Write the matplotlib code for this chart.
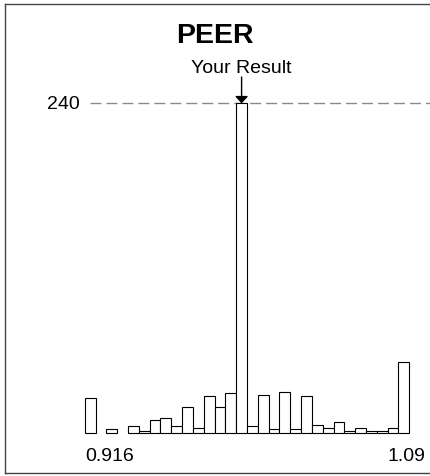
import matplotlib
matplotlib.use("Agg")
import matplotlib.pyplot as plt
import numpy as np

# ---- data ----
counts = [26, 0, 3, 0, 5, 1.5, 10, 11, 5, 19, 4, 27, 19, 29, 240,
          5, 28, 3, 30, 3, 27, 6, 4, 8, 2, 4, 1.5, 2, 4, 52]
result_bin = 14
ref_value = 240
tick_positions = [2.29, 29.76]
tick_labels = ["0.916", "1.09"]
title = "PEER"
marker_label = "Your Result"

W, H = 431, 477
fig = plt.figure(figsize=(W / 100, H / 100), dpi=100)
fig.patch.set_facecolor("white")

left_px, right_px, top_px, bot_px = 5, 445, 5, 474
ax = fig.add_axes([left_px / W, (H - bot_px) / H,
                   (right_px - left_px) / W, (bot_px - top_px) / H])
ax.set_facecolor("white")

bw_px, x0_px, base_px, ypx = 10.82, 84.7, 434.3, 1.375
ax.set_xlim((left_px - x0_px) / bw_px, (right_px - x0_px) / bw_px)
ax.set_ylim(-(bot_px - base_px) / ypx, (base_px - top_px) / ypx)

fam = ["Liberation Sans", "DejaVu Sans"]
fs = 14

idx = np.arange(len(counts))
c = np.array(counts, dtype=float)
mask = c > 0
ax.bar(idx[mask], c[mask], width=1.0, align="edge", color="white",
       edgecolor="black", linewidth=0.8, zorder=3)

x_start = (90 - x0_px) / bw_px
ax.plot([x_start, ax.get_xlim()[1]], [ref_value, ref_value], color="#8a8a8a",
        lw=1.0, dashes=(7.9, 3.6), zorder=2)
ax.text(x_start - 0.95, ref_value, str(ref_value), ha="right", va="center",
        fontsize=fs, family=fam, color="black")

xc = result_bin + 0.5
ax.annotate("", xy=(xc, ref_value), xytext=(xc, (base_px - 78) / ypx),
            arrowprops=dict(arrowstyle="-|>,head_length=0.41,head_width=0.385",
                            mutation_scale=10, color="black", lw=1.0,
                            shrinkA=0, shrinkB=0), zorder=4)
ax.text(xc, (base_px - 72.7) / ypx, marker_label, ha="center", va="baseline",
        fontsize=fs, family=fam, color="black")

for p, lab in zip(tick_positions, tick_labels):
    ax.text(p, -(461 - base_px) / ypx, lab, ha="center", va="baseline",
            fontsize=fs, family=fam, color="black")

fig.text(215 / W, 1 - 43.3 / H, title, ha="center", va="baseline",
         fontsize=20.5, fontweight="bold", family=fam)

ax.set_xticks([])
ax.set_yticks([])
for s in ["left", "top", "bottom", "right"]:
    ax.spines[s].set_color("#444444")
    ax.spines[s].set_linewidth(1.0)

fig.savefig("out.png", dpi=100, facecolor="white")
